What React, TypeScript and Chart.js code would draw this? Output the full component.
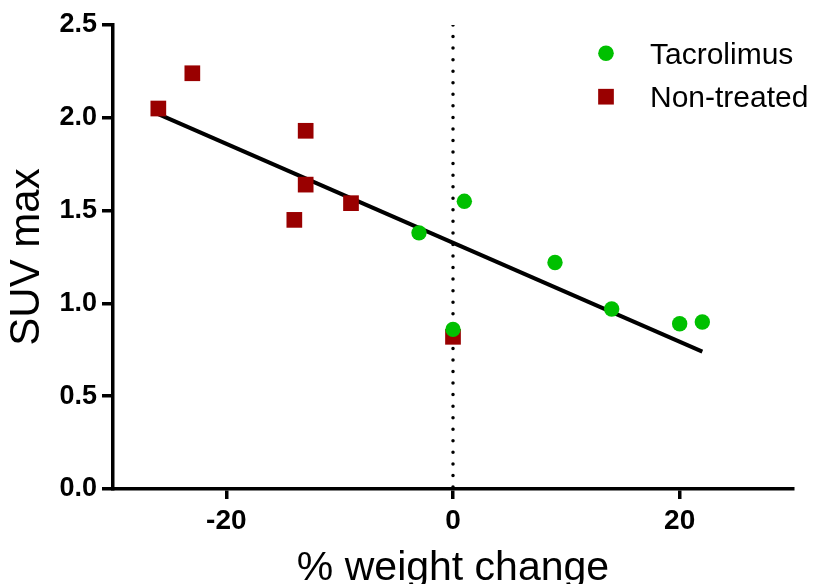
import React, { useEffect, useRef } from 'react';
import { Chart, registerables } from 'chart.js';

Chart.register(...registerables);

const FONT = '"Liberation Sans", Arial, Helvetica, sans-serif';

// Tacrolimus (green circles)
const tacrolimusX = [-3, 1, 0, 9, 14, 20, 22];
const tacrolimusY = [1.38, 1.55, 0.86, 1.22, 0.97, 0.89, 0.9];

// Non-treated (red squares)
const nonTreatedX = [-26, -23, -13, -13, -14, -9, 0];
const nonTreatedY = [2.05, 2.24, 1.93, 1.64, 1.45, 1.54, 0.82];

// Regression line endpoints
const fitX = [-26, 22];
const fitY = [2.02, 0.74];

// Vertical reference line at x = 0
const zeroLineX = [0, 0];
const zeroLineY = [2.5, 0];

const xTickValues = [-20, 0, 20];
const yTickValues = [0, 0.5, 1.0, 1.5, 2.0, 2.5];

const seriesLabels = ['Tacrolimus', 'Non-treated'];
const GREEN = '#00C000';
const RED = '#990000';

const toPoints = (xs: number[], ys: number[]) => xs.map((x, i) => ({ x, y: ys[i] }));

const legendPlugin = {
  id: 'refLegend',
  afterDraw(chart: any) {
    const { ctx } = chart;
    const entries = chart.data.datasets.filter((d: any) => d.inLegend);
    const markerX = 606;
    const firstRowY = 53.3;
    const rowGap = 43.4;
    const textX = 650;
    ctx.save();
    ctx.font = `30px ${FONT}`;
    ctx.textAlign = 'left';
    ctx.textBaseline = 'alphabetic';
    entries.forEach((ds: any, i: number) => {
      const cy = firstRowY + i * rowGap;
      ctx.fillStyle = ds.backgroundColor;
      ctx.beginPath();
      if (ds.pointStyle === 'rect') {
        const s = 15.7;
        ctx.rect(markerX - s / 2, cy - s / 2, s, s);
      } else {
        ctx.arc(markerX, cy, 7.8, 0, Math.PI * 2);
      }
      ctx.fill();
      ctx.fillStyle = '#000';
      ctx.fillText(ds.label, textX, cy + 10.4);
    });
    ctx.restore();
  },
};

export default function App() {
  const canvasRef = useRef<HTMLCanvasElement | null>(null);

  useEffect(() => {
    if (!canvasRef.current) return;
    const chart = new Chart(canvasRef.current, {
      type: 'scatter',
      data: {
        datasets: [
          {
            label: seriesLabels[0],
            inLegend: true,
            data: toPoints(tacrolimusX, tacrolimusY),
            backgroundColor: GREEN,
            borderWidth: 0,
            pointStyle: 'circle',
            pointRadius: 7.7,
            pointHoverRadius: 7.7,
          } as any,
          {
            label: seriesLabels[1],
            inLegend: true,
            data: toPoints(nonTreatedX, nonTreatedY),
            backgroundColor: RED,
            borderWidth: 0,
            pointStyle: 'rect',
            pointRadius: 11.1,
            pointHoverRadius: 11.1,
          } as any,
          {
            type: 'line',
            label: 'fit',
            data: toPoints(fitX, fitY),
            borderColor: '#000',
            borderWidth: 4,
            pointRadius: 0,
            fill: false,
            showLine: true,
          } as any,
          {
            type: 'line',
            label: 'zero',
            data: toPoints(zeroLineX, zeroLineY),
            borderColor: '#000',
            borderWidth: 3.5,
            borderDash: [0, 11.55],
            borderCapStyle: 'round',
            pointRadius: 0,
            fill: false,
            showLine: true,
          } as any,
        ],
      },
      options: {
        responsive: false,
        animation: false,
        devicePixelRatio: 1,
        events: [],
        layout: { padding: { left: 0, top: 25, right: 20, bottom: 0 } },
        plugins: {
          legend: { display: false },
          tooltip: { enabled: false },
        },
        scales: {
          x: {
            type: 'linear',
            min: -30,
            max: 30,
            afterBuildTicks: (scale: any) => {
              scale.ticks = xTickValues.map((v) => ({ value: v }));
            },
            afterFit: (scale: any) => {
              scale.height = 95;
            },
            grid: {
              drawOnChartArea: false,
              drawTicks: true,
              tickLength: 10,
              color: '#000',
              lineWidth: 3.5,
            },
            border: { display: true, color: '#000', width: 3.5 },
            ticks: {
              color: '#000',
              padding: 5,
              maxRotation: 0,
              font: { family: FONT, size: 28, weight: 'bold' },
              callback: (v: any) => String(v),
            },
            title: {
              display: true,
              text: '% weight change',
              color: '#000',
              padding: { top: 0, bottom: 0 },
              font: { family: FONT, size: 41, lineHeight: '30px' },
            },
          },
          y: {
            type: 'linear',
            min: 0,
            max: 2.5,
            afterBuildTicks: (scale: any) => {
              scale.ticks = yTickValues.map((v) => ({ value: v }));
            },
            afterFit: (scale: any) => {
              scale.width = 113;
            },
            grid: {
              drawOnChartArea: false,
              drawTicks: true,
              tickLength: 11,
              color: '#000',
              lineWidth: 3.5,
            },
            border: { display: true, color: '#000', width: 3.5 },
            ticks: {
              color: '#000',
              padding: 5,
              font: { family: FONT, size: 27, weight: 'bold' },
              callback: (v: any) => Number(v).toFixed(1),
            },
            title: {
              display: true,
              text: 'SUV max',
              color: '#000',
              padding: { top: 7, bottom: 0 },
              font: { family: FONT, size: 42, lineHeight: '40px' },
            },
          },
        },
      } as any,
      plugins: [legendPlugin],
    });
    return () => chart.destroy();
  }, []);

  return (
    <div style={{ position: 'absolute', left: 0, top: 0, width: 813, height: 584, background: '#fff', overflow: 'hidden' }}>
      <canvas ref={canvasRef} width={813} height={584} style={{ display: 'block' }} />
    </div>
  );
}
